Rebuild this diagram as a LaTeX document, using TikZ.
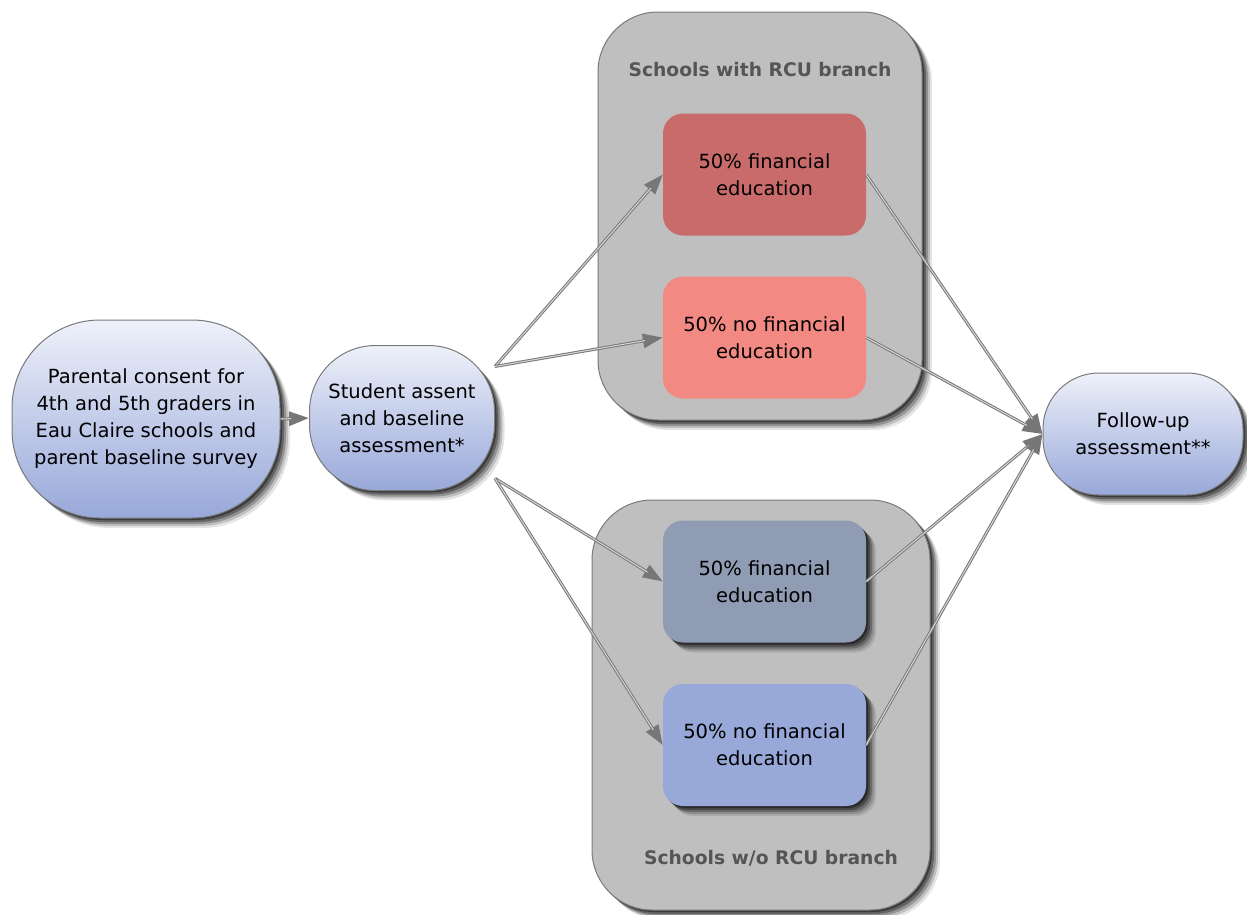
\documentclass[tikz,border=0pt]{standalone}
\usepackage{fontspec}
\setmainfont{DejaVu Sans}
\usetikzlibrary{arrows.meta,shadows}
\definecolor{bluetop}{HTML}{EEF1FA}
\definecolor{bluebot}{HTML}{98A8D9}
\definecolor{contfill}{HTML}{BFBFBF}
\definecolor{contline}{HTML}{7A7A7A}
\definecolor{redA}{HTML}{C96B6B}
\definecolor{redB}{HTML}{F28982}
\definecolor{blueA}{HTML}{8F9CB3}
\definecolor{blueB}{HTML}{97A8D9}
\definecolor{titlegray}{HTML}{555555}
\definecolor{arrowgray}{HTML}{777777}
\definecolor{arrowlight}{HTML}{D8D8D8}
\tikzset{
  myshadow/.style={
    drop shadow={shadow xshift=10pt, shadow yshift=-10pt, opacity=0.1, fill=black},
    drop shadow={shadow xshift=8pt, shadow yshift=-8pt, opacity=0.16, fill=black},
    drop shadow={shadow xshift=6pt, shadow yshift=-6pt, opacity=0.24, fill=black},
    drop shadow={shadow xshift=4pt, shadow yshift=-4pt, opacity=0.32, fill=black},
    drop shadow={shadow xshift=2pt, shadow yshift=-2pt, opacity=0.4, fill=black}},
  bignode/.style={draw=contline, line width=1pt, top color=bluetop, bottom color=bluebot, myshadow,
    align=center, font=\fontsize{19.5}{27}\selectfont, inner sep=0pt},
  container/.style={draw=contline, line width=1pt, fill=contfill, rounded corners=60pt, myshadow, inner sep=0pt},
  inner/.style={rounded corners=20pt, minimum width=203pt, minimum height=122pt, inner sep=0pt,
    align=center, font=\fontsize{19.5}{27}\selectfont},
  innershadow/.style={inner, myshadow},
  ctitle/.style={font=\bfseries\fontsize{18.7}{22}\selectfont, text=titlegray},
  conn/.style={draw=arrowgray, line width=3pt, -{Triangle[length=20pt,width=14pt]},
    postaction={draw=arrowlight, line width=1pt, -, shorten >=18pt}},
}
\begin{document}
\begin{tikzpicture}[x=1pt,y=-1pt]
\useasboundingbox (0,0) rectangle (1247,914);
% containers
\node[container, minimum width=324pt, minimum height=408pt] (top) at (760,216) {};
\node[container, minimum width=338pt, minimum height=410pt] (bot) at (761,705) {};
\node[ctitle] (toptitle) at (760,70) {Schools with RCU branch};
\node[ctitle] (bottitle) at (771,858) {Schools w/o RCU branch};
% inner boxes
\node[inner, fill=redA] (r1) at (764.5,174.5) {50\% financial\\education};
\node[inner, fill=redB] (r2) at (764.5,337.5) {50\% no financial\\education};
\node[innershadow, fill=blueA] (b1) at (764.5,581.5) {50\% financial\\education};
\node[innershadow, fill=blueB] (b2) at (764.5,745) {50\% no financial\\education};
% main nodes
\node[bignode, rounded corners=88pt, minimum width=268pt, minimum height=198pt] (parent) at (146,419)
  {Parental consent for\\4th and 5th graders in\\Eau Claire schools and\\parent baseline survey};
\node[bignode, rounded corners=66pt, minimum width=185pt, minimum height=145pt] (stud) at (402,418)
  {Student assent\\and baseline\\assessment*};
\node[bignode, rounded corners=56pt, minimum width=200pt, minimum height=122pt] (fol) at (1143,434)
  {Follow-up\\assessment**};
% connectors
\draw[conn] (parent.east) -- (stud.west);
\draw[conn] (stud.29) -- (r1.west);
\draw[conn] (stud.29) -- (r2.west);
\draw[conn] (stud.-33) -- (b1.west);
\draw[conn] (stud.-33) -- (b2.west);
\draw[conn] (r1.east) -- (fol.west);
\draw[conn] (r2.east) -- (fol.west);
\draw[conn] (b1.east) -- (fol.west);
\draw[conn] (b2.east) -- (fol.west);
\end{tikzpicture}
\end{document}
